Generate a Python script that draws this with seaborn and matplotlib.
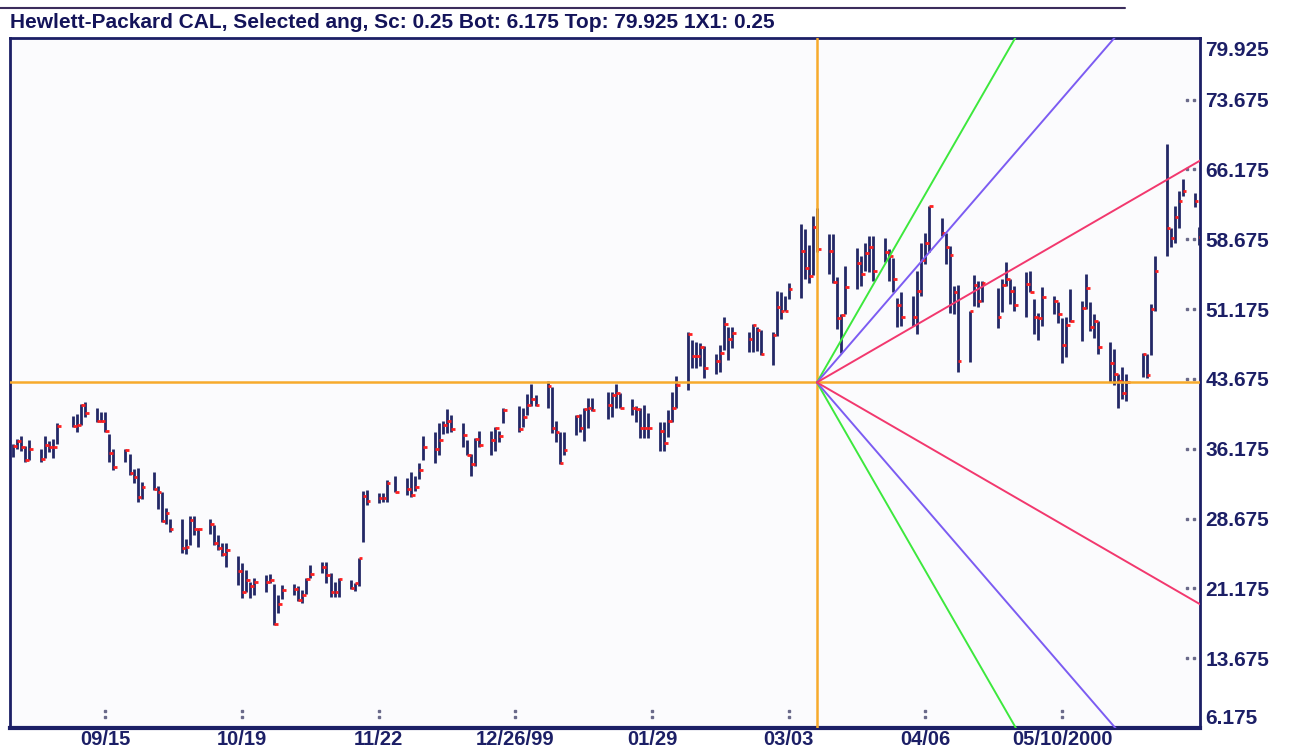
import matplotlib
matplotlib.use("Agg")
import numpy as np
import pandas as pd
import matplotlib.pyplot as plt
import matplotlib.dates as mdates
import matplotlib.transforms as mtransforms
from matplotlib.lines import Line2D
import seaborn as sns

TITLE = "Hewlett-Packard CAL, Selected ang, Sc: 0.25 Bot: 6.175 Top: 79.925 1X1: 0.25"

# trading days shown (weekdays, market holidays removed)
first_day = "1999-08-23"
last_day = "2000-06-13"
holidays = ["1999-09-06", "1999-11-25", "1999-12-24", "2000-01-17",
            "2000-02-21", "2000-04-21", "2000-05-29"]

# daily high / low / close (one row per week)
high = [
    36.7, 37.2, 37.5, 36.5, 37.1,
    36.2, 37.5, 37.0, 37.2, 38.9,
    39.7, 39.9, 41.0, 41.2,
    40.5, 40.1, 40.1, 37.8, 36.2,
    36.2, 35.6, 34.0, 34.1, 32.6,
    33.7, 32.2, 31.5, 29.8, 28.6,
    28.6, 26.5, 28.9, 29.0, 27.7,
    28.6, 28.0, 26.9, 26.0, 26.0,
    24.7, 23.9, 23.1, 21.9, 22.3,
    22.6, 22.7, 21.6, 20.5, 21.5,
    21.6, 21.4, 21.0, 22.3, 23.7,
    24.0, 24.0, 22.8, 21.9, 22.3,
    22.1, 21.8, 24.4, 31.6, 31.7,
    31.4, 31.4, 32.8, 33.2,
    33.0, 33.7, 33.3, 34.6, 37.5,
    38.0, 38.9, 39.2, 40.4, 39.8,
    38.9, 37.1, 35.6, 37.3, 38.1,
    38.1, 38.5, 38.1, 40.5,
    40.8, 40.5, 42.1, 43.1, 41.9,
    43.5, 42.8, 39.2, 38.0, 38.0,
    39.8, 39.9, 40.6, 41.6, 41.6,
    42.3, 42.3, 43.1, 42.2,
    41.5, 40.8, 40.5, 40.9, 40.0,
    39.0, 39.0, 40.3, 42.3, 44.0,
    48.7, 47.9, 47.6, 47.5, 47.2,
    46.4, 47.3, 50.3, 49.2, 49.2,
    48.7, 49.6, 49.2, 48.9,
    48.7, 53.1, 53.0, 52.6, 54.0,
    60.3, 59.8, 58.1, 61.2, 62.0,
    59.2, 59.2, 54.6, 50.6, 55.8,
    57.7, 56.9, 58.3, 59.0, 59.0,
    58.8, 57.6, 56.7, 52.4, 53.0,
    52.6, 55.3, 58.3, 59.4, 62.3,
    61.0, 59.4, 58.0, 53.7, 53.8,
    51.0, 54.8, 54.2, 54.2,
    53.4, 54.4, 56.2, 54.4, 53.7,
    55.2, 55.3, 52.3, 50.8, 53.6,
    52.6, 51.9, 50.2, 50.3, 53.3,
    52.1, 54.9, 51.9, 50.6, 49.9,
    47.6, 46.9, 44.2, 45.0, 44.2,
    46.5, 46.4, 51.7, 56.9,
    68.9, 59.9, 62.3, 63.9, 65.2,
    63.7, 60.0,
]
low = [
    35.3, 36.2, 35.9, 34.8, 35.0,
    34.8, 35.2, 35.8, 35.2, 36.7,
    38.5, 38.0, 38.7, 39.6,
    39.1, 39.0, 38.0, 34.7, 33.9,
    34.8, 33.4, 32.5, 30.5, 30.8,
    31.7, 29.7, 28.3, 28.1, 27.2,
    25.0, 24.9, 25.8, 26.9, 25.6,
    27.0, 25.8, 25.3, 24.6, 23.5,
    21.5, 20.1, 20.8, 20.1, 20.5,
    20.8, 21.7, 17.2, 18.5, 20.0,
    20.5, 19.8, 19.6, 20.6, 22.3,
    22.8, 21.8, 20.3, 20.3, 20.3,
    21.1, 20.9, 21.4, 26.2, 30.1,
    30.3, 30.5, 30.5, 31.5,
    31.2, 31.0, 31.6, 32.9, 35.0,
    34.6, 35.5, 37.8, 37.9, 38.0,
    36.4, 35.5, 33.3, 34.3, 36.4,
    35.5, 35.9, 36.9, 38.9,
    38.0, 38.5, 39.8, 40.8, 40.8,
    40.6, 37.9, 36.9, 34.5, 35.5,
    37.6, 38.0, 37.0, 38.4, 40.2,
    39.4, 39.6, 40.5, 40.5,
    39.8, 39.1, 37.3, 37.3, 37.3,
    35.9, 35.9, 37.4, 39.0, 40.6,
    42.5, 44.8, 44.9, 45.1, 43.8,
    44.2, 44.4, 46.8, 45.7, 47.0,
    46.6, 46.6, 46.7, 46.2,
    45.2, 48.3, 50.1, 51.0, 52.3,
    52.4, 54.4, 54.0, 54.8, 57.3,
    54.9, 54.0, 49.0, 46.5, 50.6,
    53.3, 53.7, 55.3, 55.2, 54.2,
    56.2, 54.2, 53.0, 49.2, 49.4,
    49.4, 48.5, 52.6, 56.0, 57.3,
    59.0, 56.0, 50.8, 50.6, 44.4,
    45.5, 51.5, 51.4, 51.9,
    49.1, 50.9, 53.7, 51.7, 51.0,
    50.3, 53.0, 48.5, 47.9, 49.4,
    50.6, 49.7, 45.4, 46.0, 49.8,
    47.7, 51.2, 48.8, 48.1, 46.4,
    43.3, 43.0, 40.6, 41.5, 41.3,
    43.9, 43.8, 46.2, 51.0,
    56.9, 57.8, 58.3, 59.9, 63.3,
    62.1, 58.1,
]
close = [
    36.5, 37.0, 36.4, 35.0, 36.2,
    35.1, 36.6, 36.4, 36.4, 38.6,
    38.6, 38.7, 40.9, 40.0,
    39.2, 39.2, 38.1, 35.7, 34.2,
    36.0, 33.6, 33.1, 31.0, 32.1,
    31.9, 31.5, 28.4, 29.3, 27.6,
    25.5, 25.6, 28.5, 27.6, 27.6,
    28.1, 26.0, 25.5, 24.9, 25.3,
    23.0, 20.8, 22.1, 21.4, 21.9,
    21.9, 22.1, 17.3, 19.5, 21.0,
    21.1, 19.9, 20.5, 22.2, 22.7,
    23.5, 22.6, 20.8, 20.8, 22.2,
    21.2, 21.8, 24.4, 31.1, 30.6,
    30.9, 30.9, 32.5, 31.5,
    31.9, 31.2, 32.1, 33.9, 36.4,
    36.2, 37.1, 38.7, 39.2, 38.3,
    37.7, 35.5, 34.5, 37.2, 36.6,
    37.1, 38.4, 37.5, 40.3,
    38.3, 39.6, 40.9, 41.5, 40.9,
    42.9, 38.4, 38.0, 34.6, 36.0,
    39.7, 38.4, 40.4, 40.5, 40.3,
    40.9, 42.0, 42.2, 40.5,
    40.5, 40.4, 38.4, 38.4, 38.4,
    38.1, 36.8, 39.2, 40.6, 43.0,
    48.5, 46.1, 46.1, 47.1, 44.8,
    45.6, 46.5, 49.6, 48.0, 48.6,
    48.0, 49.5, 48.9, 46.3,
    48.4, 51.4, 51.0, 51.0, 53.3,
    57.4, 55.6, 54.7, 60.0, 57.6,
    57.4, 54.1, 50.2, 50.5, 53.5,
    56.1, 55.0, 57.2, 57.9, 55.3,
    57.3, 56.9, 54.4, 51.6, 50.3,
    50.3, 53.1, 56.4, 58.3, 62.3,
    59.4, 57.8, 57.0, 53.0, 45.6,
    51.0, 53.8, 52.1, 54.0,
    50.3, 53.8, 54.4, 53.1, 51.6,
    53.9, 53.0, 50.3, 50.2, 52.5,
    52.1, 50.6, 47.3, 49.5, 49.9,
    51.3, 53.4, 49.2, 49.9, 47.1,
    45.4, 44.2, 43.5, 42.2, 43.3,
    46.3, 44.1, 51.2, 55.3,
    59.9, 58.8, 61.1, 62.8, 63.9,
    62.8, 58.9,
]

# Gann fan: pivot and angles (price units per calendar day)
pivot_date = "2000-03-10"
pivot_price = 43.3
fan_names = ["3x1", "2x1", "1x1"]
fan_slopes = [0.75, 0.5, 0.25]
fan_colors = ["#3de83d", "#7c5cf2", "#f2386e"]

y_ticks = [79.925, 73.675, 66.175, 58.675, 51.175, 43.675, 36.175, 28.675, 21.175, 13.675, 6.175]
x_tick_dates = ["1999-09-15", "1999-10-19", "1999-11-22", "1999-12-26",
                "2000-01-29", "2000-03-03", "2000-04-06", "2000-05-10"]
x_tick_labels = ["09/15", "10/19", "11/22", "12/26/99", "01/29", "03/03", "04/06", "05/10/2000"]

NAVY = "#1c1f66"
BAR = "#232866"
RED = "#ff2020"
ORANGE = "#f7aa2c"

sns.set_theme(style="white")
plt.rcParams["font.family"] = ["Liberation Sans", "DejaVu Sans"]

dates = pd.bdate_range(first_day, last_day, freq="C", holidays=holidays)
bars = pd.DataFrame({"date": dates, "high": high, "low": low, "close": close})

fig = plt.figure(figsize=(12.91, 7.53), dpi=100, facecolor="white")
ax = fig.add_axes([10 / 1291, 1 - 728 / 753, 1190 / 1291, 690 / 753])
ax.set_facecolor("#fbfbfd")

# price bars with close tick on the right
ax.vlines(bars["date"], bars["low"], bars["high"], color=BAR, lw=2.0, zorder=3)
ax.hlines(bars["close"], bars["date"], bars["date"] + pd.Timedelta(hours=22),
          color=RED, lw=2.0, zorder=4)

# pivot cross
ax.axhline(pivot_price, color=ORANGE, lw=1.8, zorder=5)
ax.axvline(pd.Timestamp(pivot_date), color=ORANGE, lw=1.8, zorder=5)

# fan lines
end = pd.Timestamp(last_day) + pd.Timedelta(days=2)
span = (end - pd.Timestamp(pivot_date)).days
rows = []
palette = {}
for name, slope, col in zip(fan_names, fan_slopes, fan_colors):
    for sign, tag in [(1, "up"), (-1, "dn")]:
        key = name + " " + tag
        palette[key] = col
        rows.append({"date": pd.Timestamp(pivot_date), "price": pivot_price, "line": key})
        rows.append({"date": end, "price": pivot_price + sign * slope * span, "line": key})
fan = pd.DataFrame(rows)
sns.lineplot(data=fan, x="date", y="price", hue="line", palette=palette,
             legend=False, lw=1.4, ax=ax, zorder=6, estimator=None)

# axes limits
ref = mdates.date2num(pd.Timestamp("1999-09-15"))
ax.set_xlim(ref - 23.73, ref + 272.3)
ax.set_ylim(6.3, 80.3)
ax.set_xlabel("")
ax.set_ylabel("")

# y axis on the right
ax.yaxis.tick_right()
ax.set_yticks(y_ticks)
ax.set_yticklabels([f"{v:.3f}" for v in y_ticks])
ax.tick_params(axis="y", length=0, pad=4, labelsize=15, labelcolor=NAVY)
for lab in ax.get_yticklabels():
    lab.set_fontweight("bold")
ylabs = ax.get_yticklabels()
ylabs[0].set_verticalalignment("top")
ylabs[-1].set_verticalalignment("bottom")

ax.set_xticks([pd.Timestamp(d) for d in x_tick_dates])
ax.set_xticklabels(x_tick_labels)
ax.tick_params(axis="x", length=0, pad=1.5, labelsize=14.5, labelcolor=NAVY)
for lab in ax.get_xticklabels():
    lab.set_fontweight("bold")

# dotted tick marks inside the frame
ty = mtransforms.blended_transform_factory(ax.transAxes, ax.transData)
for v in y_ticks[1:-1]:
    ax.plot([1 - 13 / 1190, 1 - 6 / 1190], [v, v], ls="none", marker="s", ms=1.6,
            color="#6a6a8a", transform=ty, clip_on=False, zorder=2)
tx = mtransforms.blended_transform_factory(ax.transData, ax.transAxes)
for d in x_tick_dates:
    xv = mdates.date2num(pd.Timestamp(d))
    ax.plot([xv, xv], [17 / 690, 11 / 690], ls="none", marker="s", ms=1.6,
            color="#6a6a8a", transform=tx, clip_on=False, zorder=2)

for side, lw in [("left", 2.0), ("right", 2.0), ("top", 2.0), ("bottom", 3.0)]:
    ax.spines[side].set_visible(True)
    ax.spines[side].set_color(NAVY)
    ax.spines[side].set_linewidth(lw)

# header
fig.add_artist(Line2D([0, 1125 / 1291], [1 - 8 / 753] * 2, color="#3b2d5c", lw=1.5,
                      transform=fig.transFigure))
fig.text(10 / 1291, 1 - 22 / 753, TITLE, ha="left", va="center", fontsize=15,
         fontweight="bold", color="#14145a")

fig.savefig("out.png", dpi=100, facecolor="white")
